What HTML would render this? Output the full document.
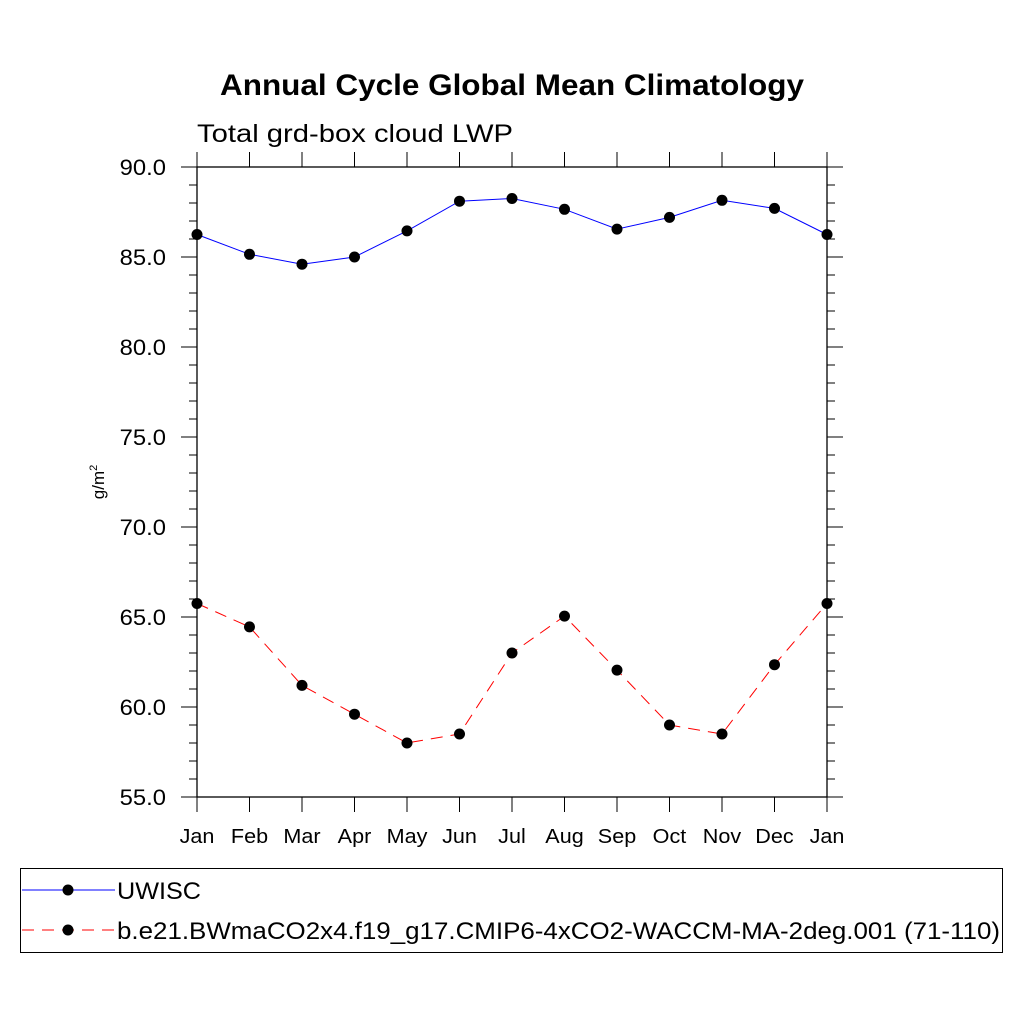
<!DOCTYPE html>
<html><head><meta charset="utf-8"><style>
body{margin:0;background:#fff}
svg text{font-family:"Liberation Sans",sans-serif}
</style></head><body>
<svg id="c" width="1024" height="1024" xmlns="http://www.w3.org/2000/svg">
<text x="512" y="95" text-anchor="middle" font-size="30" font-weight="bold" textLength="584" lengthAdjust="spacingAndGlyphs">Annual Cycle Global Mean Climatology</text>
<text x="197" y="142" font-size="25" textLength="316" lengthAdjust="spacingAndGlyphs">Total grd-box cloud LWP</text>
<text transform="translate(104,482) rotate(-90)" text-anchor="middle" font-size="17">g/m<tspan dy="-7" font-size="11">2</tspan></text>
<g id="axes"></g>
<g id="series"></g>
<g>
<rect x="20.5" y="868.5" width="982" height="84" fill="none" stroke="#000" stroke-width="1"/>
<g>
<line x1="22" y1="890" x2="115" y2="890" stroke="#0000ff" stroke-width="1"/>
<circle cx="68" cy="890" r="5.5" fill="#000"/>
<text x="117" y="899" font-size="24" textLength="84" lengthAdjust="spacingAndGlyphs">UWISC</text></g>
<g>
<line x1="22" y1="930" x2="115" y2="930" stroke="#ff0000" stroke-width="1" stroke-dasharray="12,8"/>
<circle cx="68" cy="930" r="5.5" fill="#000"/>
<text x="117" y="939" font-size="24" textLength="883" lengthAdjust="spacingAndGlyphs">b.e21.BWmaCO2x4.f19_g17.CMIP6-4xCO2-WACCM-MA-2deg.001 (71-110)</text></g>
</g>
</svg>
<script>
const months=["Jan","Feb","Mar","Apr","May","Jun","Jul","Aug","Sep","Oct","Nov","Dec","Jan"];
const uwisc=[86.25,85.15,84.6,85.0,86.45,88.1,88.25,87.65,86.55,87.2,88.15,87.7,86.25];
const model=[65.75,64.45,61.2,59.6,58.0,58.5,63.0,65.05,62.05,59.0,58.5,62.35,65.75];
const yTicks=[55,60,65,70,75,80,85,90];
const NS="http://www.w3.org/2000/svg";
const L=197,R=827,T=167,B=797,ymin=55,ymax=90;
const xs=i=>L+(R-L)*i/(months.length-1);
const ys=v=>B-(v-ymin)/(ymax-ymin)*(B-T);
function mk(p,tag,a){const e=document.createElementNS(NS,tag);for(const k in a)e.setAttribute(k,a[k]);p.appendChild(e);return e;}
function widen(t,f){const w=t.getComputedTextLength();t.setAttribute('textLength',(w*f).toFixed(1));t.setAttribute('lengthAdjust','spacingAndGlyphs');}
const ax=document.getElementById('axes');
const fr=mk(ax,'rect',{x:L,y:T,width:R-L,height:B-T,fill:'none',stroke:'#000','stroke-width':1.3});


months.forEach((m,i)=>{const x=xs(i);
mk(ax,'line',{x1:x,y1:B,x2:x,y2:B+15,stroke:'#000'});
mk(ax,'line',{x1:x,y1:T,x2:x,y2:T-15,stroke:'#000'});
const t=mk(ax,'text',{x:x,y:843,'text-anchor':'middle','font-size':20});t.textContent=m;


widen(t,1.08);});
for(let v=ymin;v<=ymax;v+=1){const y=ys(v);const len=(v%5===0)?16:8;
mk(ax,'line',{x1:L,y1:y,x2:L-len,y2:y,stroke:'#000'});
mk(ax,'line',{x1:R,y1:y,x2:R+len,y2:y,stroke:'#000'});}
yTicks.forEach(v=>{const t=mk(ax,'text',{x:166,y:ys(v)+8,'text-anchor':'end','font-size':22});t.textContent=v.toFixed(1);


widen(t,1.08);});
const sg=document.getElementById('series');
function draw(vals,color,dash,name){
const g=mk(sg,'g',{});


const pl=mk(g,'polyline',{points:vals.map((v,i)=>xs(i)+','+ys(v)).join(' '),fill:'none',stroke:color,'stroke-width':1});
if(dash)pl.setAttribute('stroke-dasharray',dash);
vals.forEach((v,i)=>{const c=mk(g,'circle',{cx:xs(i),cy:ys(v),r:5.5,fill:'#000'});

});}
draw(uwisc,'#0000ff',null,'series-uwisc');
draw(model,'#ff0000','12,8','series-model');
</script>
</body></html>
